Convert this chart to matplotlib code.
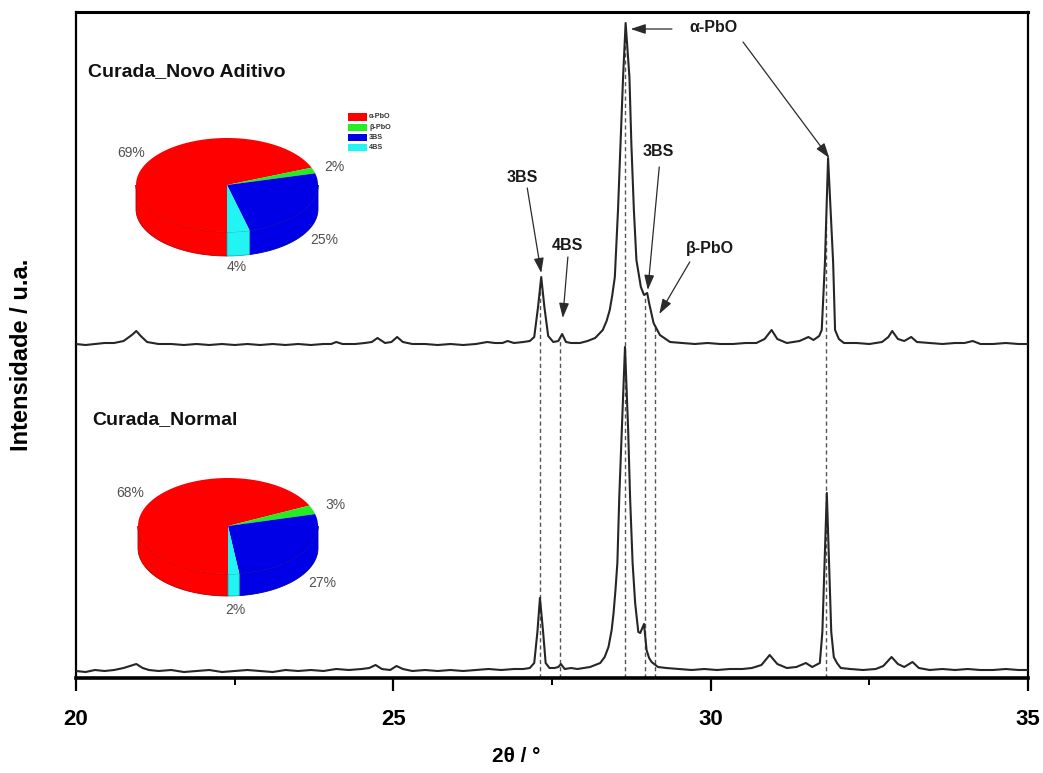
import numpy as np
import matplotlib
matplotlib.use('Agg')
import matplotlib.pyplot as plt
from matplotlib.patches import Polygon, Rectangle
from matplotlib.ticker import MultipleLocator
import matplotlib.colors as mcolors

# ---- data (2theta in degrees, intensity in a.u.) ----
tt_normal = [20.0, 20.15, 20.3, 20.45, 20.6, 20.75, 20.85, 20.95, 21.05, 21.15, 21.3, 21.5, 21.7,
             21.9, 22.1, 22.3, 22.5, 22.7, 22.9, 23.1, 23.3, 23.5, 23.7, 23.9, 24.1, 24.3, 24.5,
             24.62, 24.72, 24.82, 24.95, 25.05, 25.15, 25.3, 25.5, 25.7, 25.9, 26.1, 26.3, 26.5,
             26.7, 26.9, 27.05, 27.15, 27.22, 27.27, 27.31, 27.36, 27.4, 27.46, 27.54, 27.6,
             27.64, 27.7, 27.8, 27.9, 28.0, 28.1, 28.18, 28.26, 28.33, 28.39, 28.44, 28.47,
             28.5, 28.53, 28.56, 28.6, 28.65, 28.7, 28.73, 28.77, 28.81, 28.86, 28.89, 28.95,
             28.99, 29.03, 29.07, 29.17, 29.3, 29.5, 29.7, 29.9, 30.1, 30.3, 30.5, 30.65, 30.8,
             30.93, 31.05, 31.2, 31.35, 31.5, 31.6, 31.72, 31.76, 31.79, 31.83, 31.87, 31.9,
             31.94, 31.99, 32.05, 32.2, 32.4, 32.6, 32.72, 32.85, 32.95, 33.05, 33.18, 33.28,
             33.45, 33.65, 33.85, 34.05, 34.25, 34.45, 34.65, 34.85, 35.0]
int_normal = [1, 0, 2, 1, 2, 4, 6, 8, 4, 2, 1, 2, 0,
              1, 2, 0, 1, 2, 1, 0, 2, 1, 2, 1, 3, 2, 3,
              4, 7, 3, 2, 6, 3, 1, 2, 1, 2, 1, 2, 3,
              2, 3, 3, 4, 9, 40, 74, 40, 9, 4, 4, 5,
              8, 3, 4, 3, 4, 5, 7, 9, 15, 25, 42, 59,
              82, 109, 175, 242, 325, 242, 175, 109, 69, 40, 39, 48,
              22, 14, 10, 5, 4, 3, 2, 3, 2, 3, 3, 4, 7,
              17, 8, 4, 5, 9, 5, 9, 40, 100, 179, 100, 40,
              15, 9, 4, 3, 2, 3, 6, 15, 8, 5, 10, 4,
              2, 3, 2, 3, 2, 2, 3, 2, 2]

tt_novo = [20.0, 20.15, 20.3, 20.45, 20.6, 20.75, 20.88, 20.95, 21.02, 21.12, 21.3, 21.5, 21.7,
           21.9, 22.1, 22.3, 22.5, 22.7, 22.9, 23.1, 23.3, 23.5, 23.7, 23.9, 24.02, 24.1, 24.2,
           24.4, 24.55, 24.66, 24.75, 24.87, 24.97, 25.06, 25.15, 25.3, 25.5, 25.7, 25.9,
           26.1, 26.3, 26.48, 26.6, 26.72, 26.8, 26.9, 27.05, 27.15, 27.22, 27.28, 27.33,
           27.38, 27.44, 27.52, 27.6, 27.66, 27.72, 27.8, 27.94, 28.06, 28.18, 28.3, 28.36,
           28.41, 28.45, 28.49, 28.54, 28.58, 28.62, 28.66, 28.72, 28.75, 28.79, 28.83, 28.9,
           28.95, 29.0, 29.03, 29.1, 29.2, 29.36, 29.55, 29.75, 29.95, 30.15, 30.35, 30.55,
           30.72, 30.85, 30.96, 31.05, 31.2, 31.4, 31.54, 31.62, 31.71, 31.75, 31.8, 31.85,
           31.93, 31.96, 32.02, 32.1, 32.3, 32.5, 32.7, 32.8, 32.86, 32.95, 33.05, 33.16,
           33.25, 33.45, 33.65, 33.85, 34.0, 34.13, 34.25, 34.45, 34.65, 34.85, 35.0]
int_novo = [1, 0, 1, 2, 2, 4, 10, 14, 9, 3, 1, 1, 0,
            1, 0, 1, 0, 1, 0, 1, 0, 1, 0, 1, 1, 3, 1,
            1, 2, 3, 7, 2, 3, 8, 3, 1, 1, 0, 1,
            0, 1, 3, 2, 2, 4, 2, 3, 4, 8, 38, 68,
            38, 9, 3, 4, 11, 3, 2, 2, 4, 7, 15, 24,
            35, 50, 68, 135, 202, 268, 322, 268, 202, 135, 85, 58,
            50, 52, 42, 22, 10, 3, 2, 1, 2, 1, 1, 2,
            2, 6, 15, 6, 2, 4, 8, 5, 9, 15, 82, 187,
            82, 15, 6, 2, 2, 1, 3, 8, 14, 6, 4, 8,
            3, 2, 1, 2, 2, 4, 1, 1, 2, 1, 1]

novo_offset = 327

# reference lines (2theta)
ref_lines = [27.31, 27.63, 28.65, 28.96, 29.12, 31.82]

# phase composition (%) : alpha-PbO, beta-PbO, 3BS, 4BS
phases = ['\u03b1-PbO', '\u03b2-PbO', '3BS', '4BS']
pie_colors = ['#ff0000', '#22ee22', '#0000e6', '#22f4f4']
comp_novo = [69, 2, 25, 4]
comp_normal = [68, 3, 27, 2]

W, H = 1043, 773
narrow = ['Liberation Sans Narrow', 'Liberation Sans', 'DejaVu Sans']
arial = ['Liberation Sans', 'DejaVu Sans']

fig = plt.figure(figsize=(W / 100, H / 100), dpi=100)
ax = fig.add_axes([76 / W, 1 - 678 / H, 952 / W, 666 / H])

line_col = '#262626'
ax.plot(tt_normal, int_normal, color=line_col, lw=1.5, zorder=3)
ax.plot(tt_novo, np.array(int_novo) + novo_offset, color=line_col, lw=1.5, zorder=3)

# dashed guide lines from the upper pattern down to the axis
tops = np.interp(ref_lines, tt_novo, np.array(int_novo) + novo_offset)
for xl, yt in zip(ref_lines, tops):
    ax.plot([xl, xl], [-6, yt], color='#555555', lw=1.0, ls=(0, (3, 2.2)), zorder=2)

ax.set_xlim(20, 35)
ax.set_ylim(-6, 660)
ax.set_yticks([])
ax.set_xticks([20, 25, 30, 35])
ax.xaxis.set_minor_locator(MultipleLocator(2.5))
ax.tick_params(axis='x', which='major', direction='out', length=9, width=1.6, pad=13)
ax.tick_params(axis='x', which='minor', direction='out', length=5, width=1.4)
for lab in ax.get_xticklabels():
    lab.set_fontfamily(narrow)
    lab.set_fontweight('bold')
    lab.set_fontsize(16)
for sp in ax.spines.values():
    sp.set_linewidth(1.6)
ax.spines['bottom'].set_linewidth(2.6)
ax.spines['top'].set_linewidth(2.2)

ax.set_xlabel('2\u03b8 / \u00b0', fontfamily=narrow, fontweight='bold', fontsize=15)
ax.xaxis.set_label_coords(0.462, -0.104)
ax.set_ylabel('Intensidade / u.a.', fontfamily=narrow, fontweight='bold', fontsize=17)
ax.yaxis.set_label_coords(-0.045, 0.485)

# sample names
ax.text(20.19, 600, 'Curada_Novo Aditivo', fontfamily=arial, fontweight='bold',
        fontsize=14, ha='left', va='center', color='#111111')
ax.text(20.25, 252, 'Curada_Normal', fontfamily=arial, fontweight='bold',
        fontsize=14, ha='left', va='center', color='#111111')

# peak annotations
arr = dict(arrowstyle='-|>,head_length=0.9,head_width=0.3', color='#2a2a2a', lw=0.9,
           shrinkA=0, shrinkB=0)
lab_kw = dict(fontfamily=arial, fontweight='bold', fontsize=11.5, ha='center', va='center',
              color='#1a1a1a')
ax.text(30.05, 644, '\u03b1-PbO', **lab_kw)
ax.annotate('', xy=(28.74, 643), xytext=(29.39, 643), arrowprops=arr)
ax.annotate('', xy=(31.87, 514), xytext=(30.51, 630), arrowprops=arr)
ax.text(27.03, 494, '3BS', **lab_kw)
ax.annotate('', xy=(27.33, 399), xytext=(27.11, 484), arrowprops=arr)
ax.text(27.74, 427, '4BS', **lab_kw)
ax.annotate('', xy=(27.67, 354), xytext=(27.75, 415), arrowprops=arr)
ax.text(29.17, 520, '3BS', **lab_kw)
ax.annotate('', xy=(29.01, 382), xytext=(29.19, 505), arrowprops=arr)
ax.text(29.99, 424, '\u03b2-PbO', **lab_kw)
ax.annotate('', xy=(29.19, 358), xytext=(29.67, 410), arrowprops=arr)

# ---- 3D pies drawn on a pixel overlay ----
ov = fig.add_axes([0, 0, 1, 1], zorder=5)
ov.set_xlim(0, W)
ov.set_ylim(H, 0)
ov.axis('off')


def darker(c, f=0.7):
    r, g, b = mcolors.to_rgb(c)
    return (r * f, g * f, b * f)


def pie3d(cx, cy, a, b, depth, fracs, colors):
    # slices run clockwise starting from the front (bottom) of the disk
    edges = -90 - np.concatenate([[0], np.cumsum(fracs)]) / np.sum(fracs) * 360
    for i in range(len(fracs)):
        t1, t2 = edges[i + 1], edges[i]
        for lo, hi in [(-540, -360), (-180, 0)]:
            s, e = max(t1, lo), min(t2, hi)
            if e > s:
                t = np.radians(np.linspace(s, e, 80))
                x = cx + a * np.cos(t)
                y = cy - b * np.sin(t)
                pts = np.column_stack([np.r_[x, x[::-1]], np.r_[y, y[::-1] + depth]])
                ov.add_patch(Polygon(pts, closed=True, fc=colors[i], ec=darker(colors[i]),
                                     lw=0.6))
    for i in range(len(fracs)):
        t = np.radians(np.linspace(edges[i + 1], edges[i], 120))
        pts = np.vstack([[cx, cy], np.column_stack([cx + a * np.cos(t), cy - b * np.sin(t)])])
        ov.add_patch(Polygon(pts, closed=True, fc=colors[i], ec='none'))


pie3d(227, 185, 91, 47, 24, comp_novo, pie_colors)
pie3d(228, 526, 90, 48, 22, comp_normal, pie_colors)

pct_kw = dict(fontfamily=arial, fontsize=10, color='#505050', ha='center', va='center')
for (px, py), v in zip([(131, 153), (334, 167), (324, 240), (237, 267)], comp_novo):
    ov.text(px, py, f'{v}%', **pct_kw)
for (px, py), v in zip([(130, 493), (335, 505), (322, 583), (235, 610)], comp_normal):
    ov.text(px, py, f'{v}%', **pct_kw)

# small legend of the upper pie
for k, (name, c) in enumerate(zip(phases, pie_colors)):
    yk = 117 + k * 10.3
    ov.add_patch(Rectangle((348, yk - 3.6), 19, 7.2, fc=c, ec='none'))
    ov.text(369, yk, name, fontfamily=arial, fontweight='bold', fontsize=5.2,
            color='#333333', ha='left', va='center')

fig.savefig('out.png', dpi=100)
